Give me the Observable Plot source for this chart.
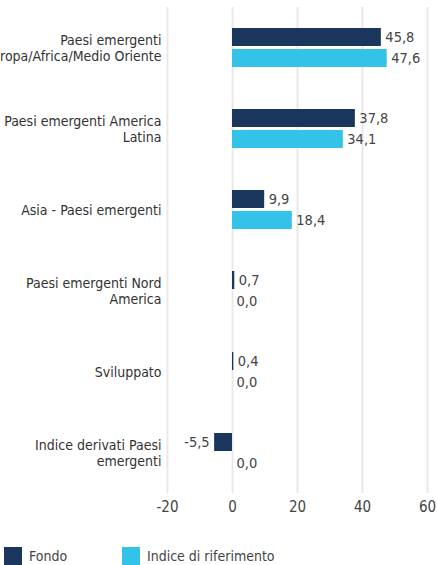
<!DOCTYPE html>
<html>
<head>
<meta charset="utf-8">
<script src="https://cdn.jsdelivr.net/npm/d3@7"></script>
<script src="https://cdn.jsdelivr.net/npm/@observablehq/plot@0.6"></script>
<style>
  body { margin: 0; background: #fff; font-family: "DejaVu Sans Condensed", "DejaVu Sans", sans-serif; }
  #chart svg { overflow: hidden; }
  .legend { display: flex; align-items: center; margin-top: 22px; padding-left: 4px; font-size: 14px; color: #444; }
  .legend .item { display: flex; align-items: center; }
  .legend .sw { width: 18px; height: 18px; margin-right: 7px; }
</style>
</head>
<body>
<div id="chart"></div>
<script>
const categories = [
  "Paesi emergenti\nEuropa/Africa/Medio Oriente",
  "Paesi emergenti America\nLatina",
  "Asia - Paesi emergenti",
  "Paesi emergenti Nord\nAmerica",
  "Sviluppato",
  "Indice derivati Paesi\nemergenti"
];
const series = ["Fondo", "Indice di riferimento"];
const fondo = [45.8, 37.8, 9.9, 0.7, 0.4, -5.5];
const indice = [47.6, 34.1, 18.4, 0.0, 0.0, 0.0];
const xTicks = [-20, 0, 20, 40, 60];
const colors = ["#1b365d", "#33c3e8"];

const data = categories.flatMap((c, i) => [
  {cat: c, series: series[0], value: fondo[i]},
  {cat: c, series: series[1], value: indice[i]}
]);
const fmt = v => v.toFixed(1).replace(".", ",");
const font = "\"DejaVu Sans Condensed\", \"DejaVu Sans\", sans-serif";

const chart = Plot.plot({
  width: 437,
  height: 525,
  marginLeft: 167,
  marginRight: 10,
  marginTop: 7,
  marginBottom: 32,
  style: {fontFamily: font, fontSize: "14px", color: "#444", background: "#fff"},
  x: {domain: [-20, 60], ticks: xTicks, tickFormat: d => String(d), label: null},
  y: {domain: series, axis: null, paddingInner: 0.14, paddingOuter: 0.95},
  fy: {domain: categories, padding: 0, label: null},
  color: {domain: series, range: colors},
  marks: [
    Plot.gridX(xTicks, {stroke: "#e8e8e8", strokeOpacity: 1, strokeWidth: 2}),
    Plot.barX(data, {x: "value", y: "series", fy: "cat", fill: "series"}),
    Plot.text(data.filter(d => d.value >= 0), {x: "value", y: "series", fy: "cat", text: d => fmt(d.value), textAnchor: "start", dx: 4, fill: "#444", fontSize: 14.5}),
    Plot.text(data.filter(d => d.value < 0), {x: "value", y: "series", fy: "cat", text: d => fmt(d.value), textAnchor: "end", dx: -5, fill: "#444", fontSize: 14.5}),
    Plot.axisX({ticks: xTicks, tickFormat: d => String(d), tickSize: 0, tickPadding: 8, fontSize: 15, fill: "#444", label: null}),
    Plot.axisFy({anchor: "left", tickSize: 0, tickPadding: 6, fontSize: 14, lineHeight: 1.15, fill: "#333", label: null})
  ]
});
document.getElementById("chart").appendChild(chart);

const legend = document.createElement("div");
legend.className = "legend";
series.forEach((s, i) => {
  const item = document.createElement("div");
  item.className = "item";
  if (i === 0) item.style.width = "118px";
  const sw = document.createElement("span");
  sw.className = "sw";
  sw.style.background = colors[i];
  const t = document.createElement("span");
  t.textContent = s;
  item.appendChild(sw);
  item.appendChild(t);
  legend.appendChild(item);
});
document.body.appendChild(legend);
</script>
</body>
</html>
